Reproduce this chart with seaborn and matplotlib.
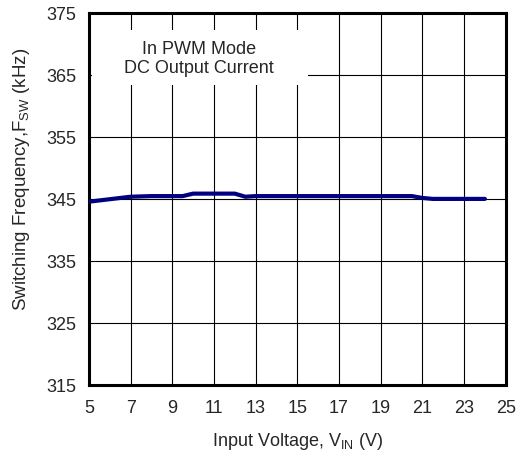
import matplotlib
matplotlib.use("Agg")
import matplotlib.pyplot as plt
from matplotlib.patches import Rectangle
import seaborn as sns
import pandas as pd

# Data
vin = [5, 6, 7, 8, 9, 9.5, 10, 11, 12, 12.5, 13, 14, 15, 16, 17, 18, 19, 20, 20.5, 21, 21.5, 22, 23, 24]
fsw = [344.6, 345.0, 345.4, 345.5, 345.5, 345.5, 345.9, 345.9, 345.9, 345.4, 345.5, 345.5, 345.5,
       345.5, 345.5, 345.5, 345.5, 345.5, 345.5, 345.2, 345.05, 345.05, 345.05, 345.05]
x_ticks = list(range(5, 26, 2))
y_ticks = list(range(315, 376, 10))

df = pd.DataFrame({"vin": vin, "fsw": fsw})

sns.set_style("white")
plt.rcParams['font.family'] = ['Liberation Sans', 'DejaVu Sans']
plt.rcParams['mathtext.default'] = 'regular'

fig = plt.figure(figsize=(5.23, 4.59), dpi=100)
ax = fig.add_axes([0.170, 0.161, 0.797, 0.810])

sns.lineplot(data=df, x="vin", y="fsw", ax=ax, color="#000080", linewidth=3, zorder=4)

ax.set_xlim(5, 25)
ax.set_ylim(315, 375)
ax.set_xticks(x_ticks)
ax.set_yticks(y_ticks)
ax.tick_params(axis="x", length=0, labelsize=13, pad=11)
ax.tick_params(axis="y", length=0, labelsize=13, pad=9)
ax.grid(True, color="black", linewidth=0.8)
for s in ax.spines.values():
    s.set_visible(True)
    s.set_color("black")
    s.set_linewidth(2.2)

ax.set_xlabel("Input Voltage, V$_{IN}$ (V)", fontsize=13, labelpad=10)
ax.set_ylabel("Switching Frequency,F$_{SW}$ (kHz)", fontsize=13.5)
ax.yaxis.set_label_coords(-0.137, 0.554)

# white area behind the annotation, hiding the grid
ax.add_patch(Rectangle((5.14, 363.4), 10.36, 8.9, facecolor="white", edgecolor="none", zorder=2.5))
ax.text(10.28, 367.6, "In PWM Mode\nDC Output Current", ha="center", va="center",
        fontsize=13, zorder=3)

fig.savefig("out.png", dpi=100)
